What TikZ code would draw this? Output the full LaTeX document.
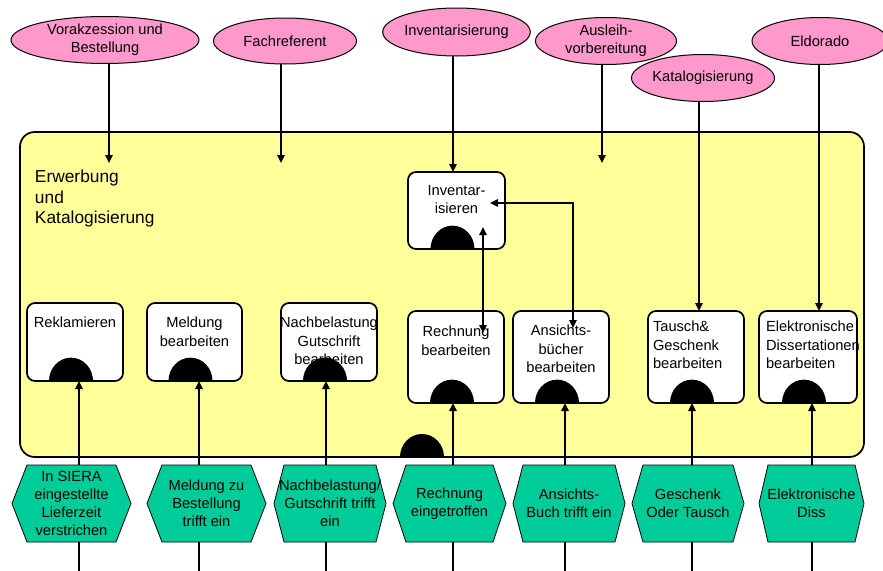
\documentclass[tikz,border=0pt]{standalone}
\usepackage{fontspec}
\setmainfont{Liberation Sans}
\usetikzlibrary{arrows.meta,shapes.geometric,calc}

\definecolor{procpink}{RGB}{255,153,204}
\definecolor{areayellow}{RGB}{255,255,153}
\definecolor{eventgreen}{RGB}{0,204,153}

% event hexagon: name, left x, right x, corner inset, text
\newcommand\evhex[5]{%
  \fill[evshape] (#2,503.5) -- (#2+#4,465) -- (#3-#4,465) -- (#3,503.5)
    -- (#3-#4,542) -- (#2+#4,542) -- cycle;
  \node[evtext] (#1) at ({(#2+#3)/2},503.5) {#5};%
}
% black half disc sitting on the lower edge of a function box
\newcommand\fndisc[1]{%
  \fill[black] ($(#1.south)+(-26,0)$) arc[start angle=180,end angle=0,x radius=16.5pt,y radius=17.5pt] -- cycle;%
}

\begin{document}
\begin{tikzpicture}[x=0.75pt, y=-0.75pt,
  every node/.style={inner sep=0pt, outer sep=0pt},
  txt/.style={font=\fontsize{11}{13.5}\selectfont, align=center},
  proc/.style={ellipse, draw=black, line width=0.75pt, fill=procpink, txt},
  area/.style={rectangle, draw=black, line width=1.3pt, fill=areayellow, rounded corners=11pt},
  fnbox/.style={rectangle, draw=black, line width=1.3pt, fill=white, rounded corners=6pt, anchor=north west},
  fntext/.style={font=\fontsize{11}{13.8}\selectfont, align=center, anchor=north},
  fntextl/.style={font=\fontsize{11}{13.8}\selectfont, align=left, anchor=north west},
  evshape/.style={fill=eventgreen, draw=black, line width=0.6pt},
  evtext/.style={txt, minimum height=57.75pt},
  flow/.style={line width=1.3pt, -{Triangle[length=6pt,width=5.5pt]}},
  both/.style={line width=1.3pt, {Triangle[length=6pt,width=5.5pt]}-{Triangle[length=6pt,width=5.5pt]}},
  wire/.style={line width=1.3pt}
]
\useasboundingbox (0,0) rectangle (883,571);

% organisational unit
\node[area, minimum width=633pt, minimum height=243.75pt, anchor=north west] (area) at (20,132) {};
\node[font=\fontsize{13}{15.4}\selectfont, align=left, anchor=north west] (title) at (35,170) {Erwerbung\\und\\Katalogisierung};
\fill[black] ($(area.south)+(-42,0)$) arc[start angle=180,end angle=0,x radius=16.5pt,y radius=17.25pt] -- cycle;

% process interfaces
\node[proc, minimum width=141pt, minimum height=35.25pt] (vor) at (105,40) {Vorakzession und\\Bestellung};
\node[proc, minimum width=107.25pt, minimum height=34.5pt] (fach) at (285,41) {Fachreferent};
\node[proc, minimum width=105.75pt, minimum height=36pt] (invp) at (456.5,32) {Inventarisierung};
\node[proc, minimum width=105.75pt, minimum height=35.25pt] (aus) at (606,41) {Ausleih-\\vorbereitung};
\node[proc, minimum width=102pt, minimum height=35.25pt] (eld) at (820,41) {Eldorado};
\node[proc, minimum width=106.5pt, minimum height=35.25pt] (kat) at (703,78) {Katalogisierung};

% functions
\node[fnbox, minimum width=72pt, minimum height=58.5pt] (rek) at (27,303) {};
\node[fntext] (rek-t) at ($(rek.north)+(0,14)$) {Reklamieren};
\fndisc{rek}
\node[fnbox, minimum width=71.25pt, minimum height=58.5pt] (mel) at (147,303) {};
\node[fntext] (mel-t) at ($(mel.north)+(0,14)$) {Meldung\\bearbeiten};
\fndisc{mel}
\node[fnbox, minimum width=72pt, minimum height=58.5pt] (nach) at (281,303) {};
\node[fntext] (nach-t) at ($(nach.north)+(0,14)$) {Nachbelastung\\Gutschrift\\bearbeiten};
\fndisc{nach}
\node[fnbox, minimum width=72.75pt, minimum height=57.75pt] (inv) at (408,172) {};
\node[fntext] (inv-t) at ($(inv.north)+(0,13)$) {Inventar-\\isieren};
\fndisc{inv}
\node[fnbox, minimum width=72pt, minimum height=69pt] (rech) at (408,311) {};
\node[fntext] (rech-t) at ($(rech.north)+(0,15)$) {Rechnung\\bearbeiten};
\fndisc{rech}
\node[fnbox, minimum width=72pt, minimum height=69pt] (ans) at (513,311) {};
\node[fntext] (ans-t) at ($(ans.north)+(0,14)$) {Ansichts-\\bücher\\bearbeiten};
\fndisc{ans}
\node[fnbox, minimum width=72pt, minimum height=69pt] (tau) at (648,311) {};
\node[fntextl] (tau-t) at ($(tau.north west)+(5,10)$) {Tausch\&\\Geschenk\\bearbeiten};
\fndisc{tau}
\node[fnbox, minimum width=73.5pt, minimum height=69pt] (ele) at (759,311) {};
\node[fntextl] (ele-t) at ($(ele.north west)+(7,10)$) {Elektronische\\Dissertationen\\bearbeiten};
\fndisc{ele}

% events
\evhex{ev1}{12}{131}{15}{In SIERA\\eingestellte\\Lieferzeit\\verstrichen}
\evhex{ev2}{147}{266}{15}{Meldung zu\\Bestellung\\trifft ein}
\evhex{ev3}{274}{386}{10}{Nachbelastung/\\Gutschrift trifft\\ein}
\evhex{ev4}{393}{506}{13}{Rechnung\\eingetroffen}
\evhex{ev5}{513}{625}{10}{Ansichts-\\Buch trifft ein}
\evhex{ev6}{632}{744}{11}{Geschenk\\Oder Tausch}
\evhex{ev7}{759}{864}{9}{Elektronische\\Diss}

% connector end points
\coordinate (bottom) at (0,571);
\coordinate (vor-in) at (109,163);
\coordinate (fach-in) at (281,163);
\coordinate (aus-in) at (602,163);
\coordinate (inv-top) at ($(inv.north)+(-3.5,0)$);
\coordinate (tau-top) at ($(tau.north)+(3,0)$);
\coordinate (ele-top) at ($(ele.north)+(11,0)$);
\coordinate (rek-in) at ($(rek.south)+(4,0)$);
\coordinate (mel-in) at ($(mel.south)+(4.5,0)$);
\coordinate (nach-in) at ($(nach.south)+(-3,0)$);
\coordinate (rech-in) at ($(rech.south)+(-3,0)$);
\coordinate (ans-in) at ($(ans.south)+(4,0)$);
\coordinate (tau-in) at ($(tau.south)+(-4,0)$);
\coordinate (ele-in) at ($(ele.south)+(4,0)$);

% process interfaces into the unit
\draw[flow] (vor.south -| vor-in) -- (vor-in);
\draw[flow] (fach.south -| fach-in) -- (fach-in);
\draw[flow] (invp.south -| inv-top) -- (inv-top);
\draw[flow] (aus.south -| aus-in) -- (aus-in);
\draw[flow] (kat.south -| tau-top) -- (tau-top);
\draw[flow] (eld.south -| ele-top) -- (ele-top);

% events triggering functions
\foreach \ev/\fn in {ev1/rek, ev2/mel, ev3/nach, ev4/rech, ev5/ans, ev6/tau, ev7/ele}{
  \draw[flow] (\ev.north -| \fn-in) -- (\fn-in);
  \draw[wire] (\ev.south -| \fn-in) -- (\fn-in |- bottom);
}

% links between the inventory function and its neighbours
\draw[both] ($(inv.south)+(26.5,-22)$) -- ($(rech.north)+(27,22)$);
\draw[both] ($(inv.east)+(-15,-7.5)$) -| ($(ans.north)+(12,17)$);

\end{tikzpicture}
\end{document}
